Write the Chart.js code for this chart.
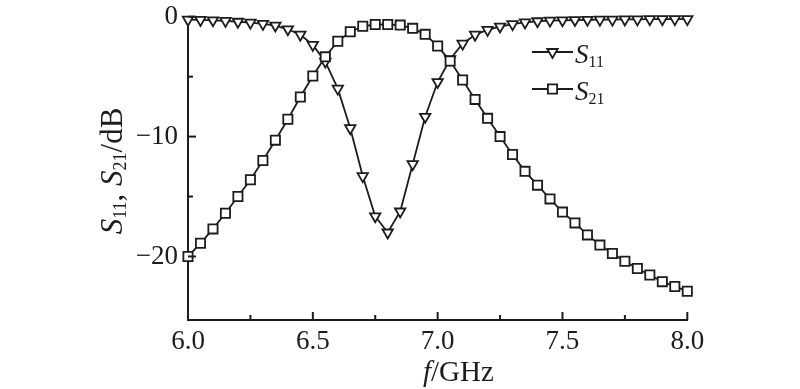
<!DOCTYPE html>
<html>
<head>
<meta charset="utf-8">
<script src="https://cdn.jsdelivr.net/npm/chart.js@4.4.0/dist/chart.umd.min.js"></script>
<style>
  html, body { margin: 0; padding: 0; background: #fff; }
  #contenedor { width: 800px; height: 389px; }
</style>
</head>
<body>
<div id="contenedor"><canvas id="grafico" width="800" height="389"></canvas></div>
<script>
// Frecuencias (GHz)
const frecuencias = [
  6.00, 6.05, 6.10, 6.15, 6.20, 6.25, 6.30, 6.35, 6.40, 6.45,
  6.50, 6.55, 6.60, 6.65, 6.70, 6.75, 6.80, 6.85, 6.90, 6.95,
  7.00, 7.05, 7.10, 7.15, 7.20, 7.25, 7.30, 7.35, 7.40, 7.45,
  7.50, 7.55, 7.60, 7.65, 7.70, 7.75, 7.80, 7.85, 7.90, 7.95, 8.00
];

// S11 (dB)
const valoresS11 = [
  -0.25, -0.27, -0.30, -0.35, -0.42, -0.50, -0.60, -0.74, -1.05, -1.50,
  -2.35, -3.75, -6.00, -9.30, -13.30, -16.65, -18.00, -16.25, -12.30, -8.35,
  -5.45, -3.55, -2.25, -1.50, -1.10, -0.82, -0.62, -0.48, -0.38, -0.33,
  -0.30, -0.28, -0.26, -0.25, -0.24, -0.23, -0.22, -0.21, -0.20, -0.20, -0.20
];

// S21 (dB)
const valoresS21 = [
  -20.00, -18.90, -17.70, -16.40, -15.00, -13.60, -12.00, -10.30, -8.55, -6.70,
  -4.95, -3.35, -2.05, -1.25, -0.80, -0.65, -0.65, -0.70, -0.97, -1.47,
  -2.45, -3.70, -5.28, -6.90, -8.48, -10.00, -11.50, -12.90, -14.05, -15.20,
  -16.30, -17.20, -18.20, -19.05, -19.75, -20.40, -21.00, -21.55, -22.10, -22.50, -22.90
];

// Marcas de los ejes
const ticksXMayores = [6.0, 6.5, 7.0, 7.5, 8.0];
const ticksXMenores = [6.25, 6.75, 7.25, 7.75];
const ticksYMayores = [-20, -10, 0];
const ticksYMenores = [-15, -5];

const colorNegro = '#1c1c1c';
const fuenteSerif = '"Liberation Serif", "Times New Roman", "DejaVu Serif", serif';

// Dibuja un texto con partes en distintas fuentes (cursiva, subíndices)
const textoCompuesto = (ctx, partes, x, y, alinear) => {
  let ancho = 0;
  partes.forEach(p => { ctx.font = p.font; ancho += ctx.measureText(p.t).width; });
  let posX = alinear === 'center' ? x - ancho / 2 : x;
  ctx.textAlign = 'left';
  ctx.textBaseline = 'alphabetic';
  partes.forEach(p => {
    ctx.font = p.font;
    ctx.fillText(p.t, posX, y + (p.dy || 0));
    posX += ctx.measureText(p.t).width;
  });
};

const marcador = (ctx, tipo, x, y) => {
  ctx.beginPath();
  if (tipo === 'triangulo') {
    const r = 6;
    ctx.moveTo(x, y + r);
    ctx.lineTo(x - r * 0.866, y - r / 2);
    ctx.lineTo(x + r * 0.866, y - r / 2);
    ctx.closePath();
  } else {
    const s = 4.6;
    ctx.rect(x - s, y - s, 2 * s, 2 * s);
  }
  ctx.fillStyle = '#fff';
  ctx.fill();
  ctx.stroke();
};

const decoracion = {
  id: 'decoracion',
  afterDraw(chart) {
    const { ctx, chartArea, scales: { x, y } } = chart;
    ctx.save();
    ctx.strokeStyle = colorNegro;
    ctx.lineWidth = 2;

    // Marcas hacia dentro
    const linea = (x1, y1, x2, y2) => { ctx.beginPath(); ctx.moveTo(x1, y1); ctx.lineTo(x2, y2); ctx.stroke(); };
    ticksXMayores.forEach(v => { const p = x.getPixelForValue(v); linea(p, chartArea.bottom, p, chartArea.bottom - 8); });
    ticksXMenores.forEach(v => { const p = x.getPixelForValue(v); linea(p, chartArea.bottom, p, chartArea.bottom - 5); });
    ticksYMayores.forEach(v => { const p = y.getPixelForValue(v); linea(chartArea.left, p, chartArea.left + 8, p); });
    ticksYMenores.forEach(v => { const p = y.getPixelForValue(v); linea(chartArea.left, p, chartArea.left + 5, p); });

    ctx.fillStyle = colorNegro;

    // Título del eje x
    textoCompuesto(ctx, [
      { t: 'f', font: 'italic 29px ' + fuenteSerif },
      { t: '/GHz', font: '29px ' + fuenteSerif }
    ], 423, 381, 'left');

    // Título del eje y
    ctx.save();
    ctx.translate(122, 171);
    ctx.rotate(-Math.PI / 2);
    textoCompuesto(ctx, [
      { t: 'S', font: 'italic 31px ' + fuenteSerif },
      { t: '11', font: '18px ' + fuenteSerif, dy: 4 },
      { t: ', ', font: '31px ' + fuenteSerif },
      { t: 'S', font: 'italic 31px ' + fuenteSerif },
      { t: '21', font: '18px ' + fuenteSerif, dy: 4 },
      { t: '/dB', font: '31px ' + fuenteSerif }
    ], 0, 0, 'center');
    ctx.restore();

    // Leyenda
    const filas = [
      { tipo: 'triangulo', sub: '11', y: 52 },
      { tipo: 'cuadrado', sub: '21', y: 89 }
    ];
    ctx.lineWidth = 1.8;
    filas.forEach(f => {
      ctx.strokeStyle = colorNegro;
      linea(532, f.y, 573, f.y);
      marcador(ctx, f.tipo, 552.5, f.y);
      ctx.fillStyle = colorNegro;
      textoCompuesto(ctx, [
        { t: 'S', font: 'italic 27px ' + fuenteSerif },
        { t: f.sub, font: '16px ' + fuenteSerif, dy: 4 }
      ], 575, f.y + 11, 'left');
    });

    ctx.restore();
  }
};

const puntos = (valores) => frecuencias.map((f, i) => ({ x: f, y: valores[i] }));

new Chart(document.getElementById('grafico'), {
  type: 'line',
  data: {
    datasets: [
      {
        label: 'S21',
        data: puntos(valoresS21),
        borderColor: colorNegro,
        borderWidth: 1.8,
        pointStyle: 'rect',
        pointRadius: 6.5,
        pointBorderWidth: 1.8,
        pointBorderColor: colorNegro,
        pointBackgroundColor: '#fff',
        tension: 0,
        clip: false,
        order: 0
      },
      {
        label: 'S11',
        data: puntos(valoresS11),
        borderColor: colorNegro,
        borderWidth: 1.8,
        pointStyle: 'triangle',
        pointRotation: 180,
        pointRadius: 6,
        pointBorderWidth: 1.8,
        pointBorderColor: colorNegro,
        pointBackgroundColor: '#fff',
        tension: 0,
        clip: false,
        order: 1
      }
    ]
  },
  options: {
    responsive: false,
    animation: false,
    layout: { padding: { top: 16.7, right: 112.7, bottom: 0, left: 0 } },
    plugins: { legend: { display: false }, tooltip: { enabled: false } },
    scales: {
      x: {
        type: 'linear',
        min: 6,
        max: 8,
        grid: { display: false, drawTicks: false },
        border: { display: true, color: colorNegro, width: 2 },
        afterBuildTicks: (scale) => { scale.ticks = ticksXMayores.map(v => ({ value: v })); },
        afterFit: (scale) => { scale.height = 69; scale.paddingLeft = 0; scale.paddingRight = 0; },
        ticks: {
          padding: 6,
          color: colorNegro,
          font: { family: fuenteSerif, size: 27 },
          maxRotation: 0,
          callback: (v) => Number(v).toFixed(1)
        }
      },
      y: {
        min: -25.3,
        max: 0,
        grid: { display: false, drawTicks: false },
        border: { display: true, color: colorNegro, width: 2 },
        afterBuildTicks: (scale) => { scale.ticks = ticksYMayores.map(v => ({ value: v })); },
        afterFit: (scale) => { scale.width = 188; scale.paddingTop = 0; scale.paddingBottom = 0; },
        ticks: {
          padding: 10,
          color: colorNegro,
          font: { family: fuenteSerif, size: 27 },
          callback: (v) => v === 0 ? '0' : '\u2212' + Math.abs(v)
        }
      }
    }
  },
  plugins: [decoracion]
});
</script>
</body>
</html>
